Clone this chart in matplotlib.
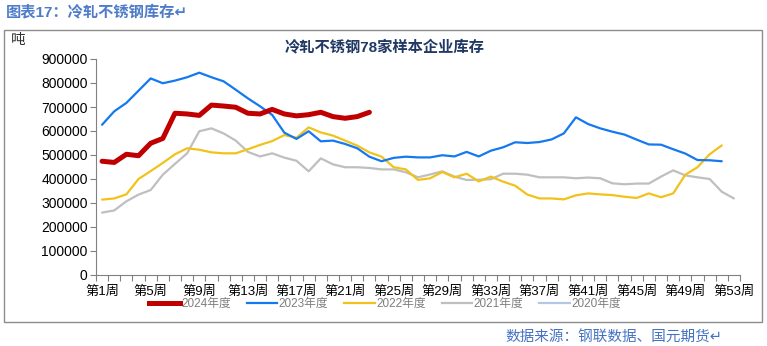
"""
    冷轧不锈钢库存
"""

import numpy as np
import matplotlib.pyplot as plt
from matplotlib.patches import Rectangle
from matplotlib.lines import Line2D

plt.rcParams['font.family'] = ['Liberation Sans', 'Noto Sans CJK SC', 'DejaVu Sans']

# 数据(吨), 按周
weeks = np.arange(1, 54)
y2024 = [474000, 469000, 503000, 497000, 549000, 569000, 674000, 671000, 665000,
         708000, 704000, 699000, 674000, 671000, 690000, 671000, 663000, 668000,
         678000, 660000, 653000, 660000, 678000]
y2023 = [626000, 682000, 717000, 768000, 819000, 799000, 810000, 824000, 843000,
         824000, 807000, 772000, 736000, 703000, 667000, 593000, 567000, 599000,
         557000, 560000, 546000, 528000, 493000, 474000, 488000, 493000, 490000,
         490000, 499000, 494000, 513000, 494000, 518000, 532000, 553000, 550000,
         554000, 565000, 590000, 657000, 629000, 611000, 597000, 585000, 564000,
         544000, 543000, 524000, 506000, 479000, 478000, 474000]
y2022 = [314000, 319000, 336000, 400000, 433000, 467000, 503000, 528000, 522000,
         511000, 507000, 507000, 524000, 542000, 558000, 583000, 572000, 615000,
         594000, 581000, 560000, 539000, 511000, 493000, 449000, 440000, 396000,
         403000, 429000, 407000, 422000, 390000, 410000, 389000, 372000, 335000,
         319000, 319000, 315000, 332000, 340000, 336000, 333000, 326000, 321000,
         340000, 324000, 340000, 418000, 449000, 503000, 540000]
y2021 = [260000, 269000, 307000, 335000, 354000, 418000, 463000, 507000, 599000,
         611000, 590000, 560000, 513000, 494000, 507000, 489000, 476000, 432000,
         486000, 461000, 449000, 449000, 446000, 440000, 440000, 428000, 407000,
         419000, 432000, 410000, 396000, 397000, 399000, 422000, 422000, 418000,
         407000, 407000, 407000, 403000, 406000, 403000, 382000, 378000, 381000,
         381000, 410000, 436000, 415000, 407000, 400000, 347000, 319000]
y2020 = []

labels = ['2024年度', '2023年度', '2022年度', '2021年度', '2020年度']
colors = ['#C00000', '#1479F0', '#F2C21B', '#BFBFBF', '#B4C7E7']
tick_weeks = list(range(1, 54, 4))
tick_labels = ['第%d周' % w for w in tick_weeks]

fig = plt.figure(figsize=(7.67, 3.46), dpi=100, facecolor='white')

# 外框
fig.patches.append(Rectangle((4 / 767, 1 - 322 / 346), 758 / 767, 292 / 346,
                             transform=fig.transFigure, fill=False,
                             edgecolor='#8C8C8C', linewidth=1))

fig.text(6 / 767, 1 - 12 / 346, '图表17：冷轧不锈钢库存↵', fontsize=11,
         fontweight='bold', color='#4F7CC9', va='center', ha='left')
fig.text(722 / 767, 1 - 337 / 346, '数据来源：钢联数据、国元期货↵', fontsize=10.5,
         color='#4472C4', va='center', ha='right')
fig.text(11 / 767, 1 - 40 / 346, '吨', fontsize=10.5, color='#333333',
         va='center', ha='left')
fig.text(385 / 767, 1 - 47 / 346, '冷轧不锈钢78家样本企业库存', fontsize=11,
         fontweight='bold', color='#1F3864', va='center', ha='center')

ax = fig.add_axes([96 / 767, 1 - 275 / 346, 644 / 767, 216 / 346])
series = [y2024, y2023, y2022, y2021, y2020]
widths = [3.6, 1.6, 1.6, 1.6, 1.6]
for data, lab, c, lw in reversed(list(zip(series, labels, colors, widths))):
    ax.plot(weeks[:len(data)], data, color=c, linewidth=lw, label=lab,
            solid_capstyle='round')

ax.set_xlim(0.5, 53.5)
ax.set_ylim(0, 900000)
ax.set_yticks(np.arange(0, 900001, 100000))
ax.set_yticklabels([str(v) for v in range(0, 900001, 100000)])
ax.set_xticks(np.arange(0.5, 54, 1))
ax.set_xticklabels([])
ax.set_xticks(tick_weeks, minor=True)
ax.set_xticklabels(tick_labels, minor=True)
ax.tick_params(axis='x', which='major', length=4, color='#808080', direction='out')
ax.tick_params(axis='x', which='minor', length=0, labelsize=9.5, pad=8, colors='#000000')
ax.tick_params(axis='y', length=4, color='#808080', labelsize=10, pad=2)
for s in ['top', 'right']:
    ax.spines[s].set_visible(False)
for s in ['left', 'bottom']:
    ax.spines[s].set_color('#808080')

handles = [Line2D([], [], color=c, linewidth=lw) for c, lw in zip(colors, widths)]
leg = fig.legend(handles, labels, loc='center', bbox_to_anchor=(385 / 767, 1 - 304 / 346),
                 ncol=5, frameon=False, fontsize=8.5, handlelength=2.6,
                 handletextpad=0.1, columnspacing=1.35)
for t in leg.get_texts():
    t.set_color('#7F7F7F')

plt.savefig('out.png', dpi=100, facecolor='white')
